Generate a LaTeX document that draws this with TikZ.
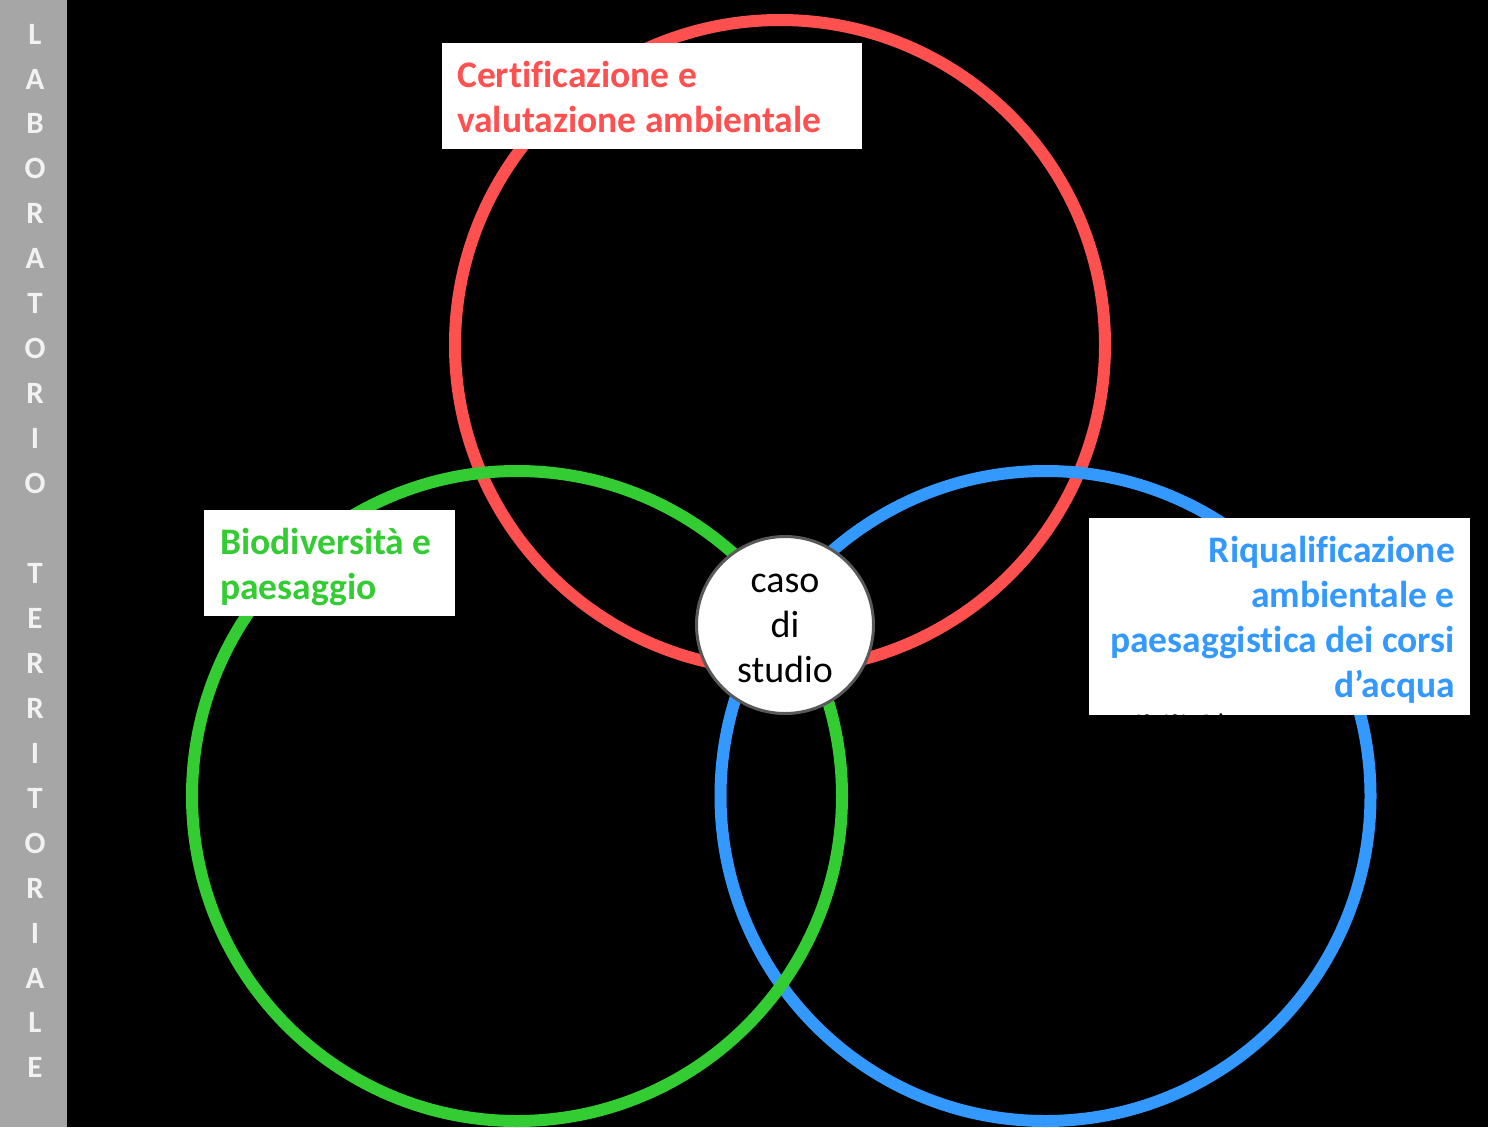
\documentclass[tikz,border=0pt]{standalone}
\usepackage{fontspec}
\setmainfont{Carlito}[Ligatures=NoCommon]
\definecolor{ringred}{HTML}{FF5050}
\definecolor{ringgreen}{HTML}{33CC33}
\definecolor{ringblue}{HTML}{3399FF}
\definecolor{stripgrey}{HTML}{A6A6A6}
\definecolor{lettergrey}{HTML}{F2F2F2}
\definecolor{hubborder}{HTML}{595959}
\tikzset{
  ring/.style={circle, draw=#1, line width=12pt, minimum size=650pt, inner sep=0pt, outer sep=0pt},
  labelbox/.style={fill=white, inner sep=0pt, outer sep=0pt},
  labeltext/.style={font=\fontsize{37.5}{45}\selectfont\bfseries, text=#1, inner sep=0pt},
  hub/.style={circle, fill=white, draw=hubborder, line width=3pt, minimum size=177pt, inner sep=0pt},
  hubtext/.style={align=center, inner sep=0pt, font=\fontsize{38}{45}\selectfont},
  stripletter/.style={font=\fontsize{31}{31}\selectfont\bfseries, text=lettergrey, inner sep=0pt, anchor=center}
}
\begin{document}
\begin{tikzpicture}[x=1pt,y=-1pt]
\fill[black] (0,0) rectangle (1488,1127);
\useasboundingbox (0,0) rectangle (1488,1127);
% left strip
\fill[stripgrey] (0,0) rectangle (67,1127);
\foreach \ch [count=\i from 0] in {L,A,B,O,R,A,T,O,R,I,O,{},T,E,R,R,I,T,O,R,I,A,L,E}{
  \node[stripletter] (s\i) at (35,{34+44.95*\i}) {\ch};
}
% rings
\node[ring=ringred] (red) at (780,345) {};
\node[ring=ringblue] (blue) at (1045.5,796) {};
\node[ring=ringgreen] (green) at (517,796) {};
% hub
\node[hub] (hub) at (785,625) {};
\node[hubtext, anchor=center] (hubtxt) at (785,628) {caso\\di\\studio};
% red label
\node[labelbox, minimum width=420pt, minimum height=106pt, anchor=north west] (redbox) at (442,43) {};
\node[labeltext=ringred, anchor=base west] (redl1) at (457,87) {Certificazione e};
\node[labeltext=ringred, anchor=base west] (redl2) at (457,132) {valutazione ambientale};
% green label
\node[labelbox, minimum width=251pt, minimum height=106pt, anchor=north west] (greenbox) at (204,510) {};
\node[labeltext=ringgreen, anchor=base west] (greenl1) at (220,554) {Biodiversità e};
\node[labeltext=ringgreen, anchor=base west] (greenl2) at (220,599) {paesaggio};
% blue label
\node[labelbox, minimum width=381pt, minimum height=197pt, anchor=north west] (bluebox) at (1089,518) {};
\begin{scope}
  \clip (1089,518) rectangle (1470,715);
  \node[font=\fontsize{37}{45}\selectfont, text=black, inner sep=0pt, anchor=base east] (hidden) at (1229,740) {ibilità)};
\end{scope}
\node[labeltext=ringblue, anchor=base east] (bluel1) at (1455,562) {Riqualificazione};
\node[labeltext=ringblue, anchor=base east] (bluel2) at (1455,607) {ambientale e};
\node[labeltext=ringblue, anchor=base east] (bluel3) at (1455,652) {paesaggistica dei corsi};
\node[labeltext=ringblue, anchor=base east] (bluel4) at (1455,697) {d’acqua};
\end{tikzpicture}
\end{document}
